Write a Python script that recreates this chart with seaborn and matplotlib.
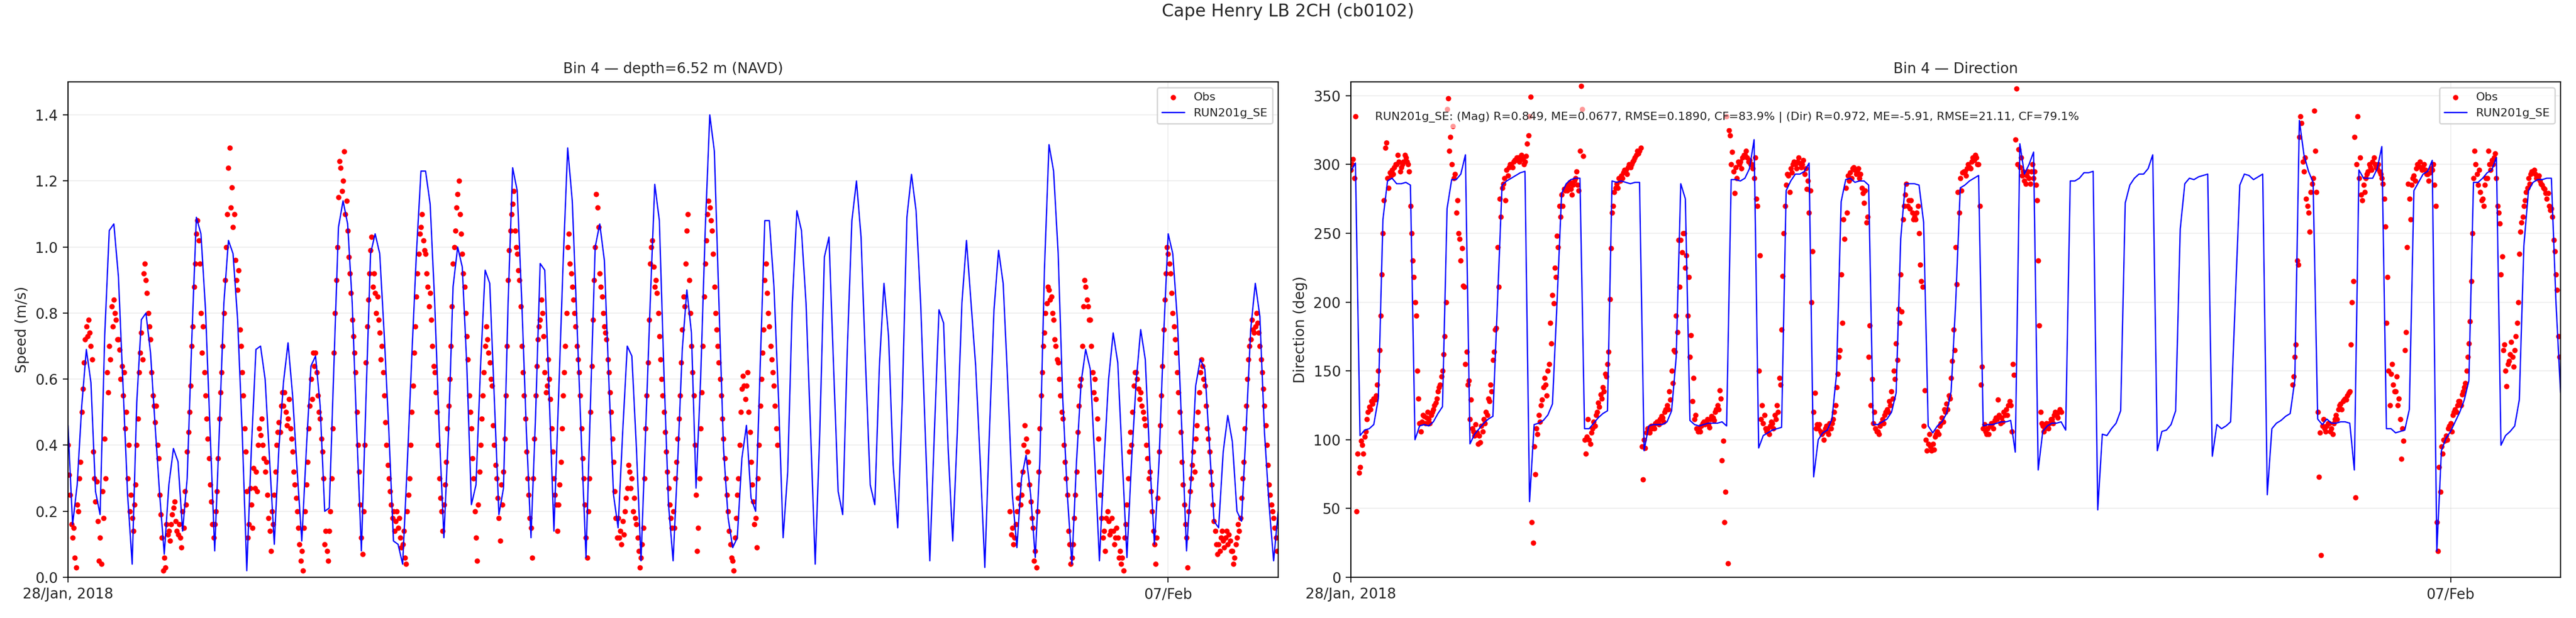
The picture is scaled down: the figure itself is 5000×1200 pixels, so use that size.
import pandas as pd
import numpy as np
import matplotlib
matplotlib.use("Agg")
import matplotlib.pyplot as plt
import seaborn as sns

# model: hourly values starting 28 Jan 2018 00:00
model_speed = [
    0.46, 0.16, 0.28, 0.52, 0.69, 0.59, 0.26, 0.19, 0.73, 1.05,
    1.07, 0.91, 0.58, 0.25, 0.04, 0.53, 0.78, 0.80, 0.68, 0.46,
    0.25, 0.07, 0.28, 0.39, 0.35, 0.14, 0.30, 0.72, 1.09, 1.04,
    0.81, 0.44, 0.08, 0.44, 0.83, 1.02, 0.98, 0.78, 0.44, 0.02,
    0.39, 0.69, 0.70, 0.60, 0.35, 0.10, 0.39, 0.59, 0.71, 0.55,
    0.32, 0.11, 0.39, 0.64, 0.67, 0.52, 0.20, 0.21, 0.64, 1.06,
    1.14, 1.07, 0.83, 0.44, 0.08, 0.54, 0.98, 1.04, 0.98, 0.73,
    0.44, 0.11, 0.10, 0.04, 0.34, 0.67, 0.98, 1.23, 1.23, 1.13,
    0.83, 0.44, 0.12, 0.44, 0.88, 1.00, 0.94, 0.64, 0.22, 0.28,
    0.64, 0.93, 0.89, 0.54, 0.19, 0.27, 0.83, 1.24, 1.17, 0.83,
    0.44, 0.12, 0.49, 0.95, 0.93, 0.54, 0.14, 0.54, 0.95, 1.30,
    1.14, 0.78, 0.41, 0.06, 0.54, 1.00, 1.07, 0.96, 0.59, 0.25,
    0.15, 0.44, 0.70, 0.67, 0.39, 0.05, 0.44, 0.83, 1.19, 1.08,
    0.62, 0.22, 0.05, 0.35, 0.69, 0.87, 0.74, 0.27, 0.60, 1.05,
    1.40, 1.29, 0.83, 0.39, 0.18, 0.09, 0.12, 0.36, 0.46, 0.24,
    0.20, 0.64, 1.08, 1.08, 0.88, 0.54, 0.12, 0.32, 0.83, 1.11,
    1.05, 0.83, 0.44, 0.04, 0.44, 0.97, 1.03, 0.64, 0.26, 0.19,
    0.69, 1.08, 1.20, 1.03, 0.64, 0.28, 0.22, 0.64, 0.89, 0.73,
    0.34, 0.15, 0.54, 1.09, 1.22, 1.11, 0.83, 0.44, 0.05, 0.44,
    0.81, 0.77, 0.39, 0.11, 0.44, 0.83, 1.02, 0.83, 0.64, 0.35,
    0.03, 0.44, 0.81, 0.99, 0.89, 0.59, 0.25, 0.09, 0.30, 0.37,
    0.25, 0.06, 0.35, 0.93, 1.31, 1.23, 0.98, 0.54, 0.25, 0.04,
    0.35, 0.59, 0.69, 0.63, 0.35, 0.05, 0.35, 0.60, 0.74, 0.65,
    0.35, 0.06, 0.35, 0.59, 0.75, 0.66, 0.35, 0.10, 0.35, 0.73,
    1.04, 0.98, 0.78, 0.44, 0.08, 0.30, 0.58, 0.66, 0.63, 0.40,
    0.17, 0.15, 0.38, 0.49, 0.41, 0.20, 0.17, 0.45, 0.75, 0.89,
    0.79, 0.44, 0.22, 0.05, 0.20,
]

model_dir = [
    295, 301, 103, 107, 108, 111, 130, 260, 288, 290,
    286, 286, 287, 285, 100, 110, 111, 110, 113, 119,
    124, 268, 289, 289, 293, 307, 97, 104, 108, 112,
    115, 117, 200, 285, 288, 290, 292, 294, 295, 55,
    111, 112, 114, 118, 126, 200, 279, 286, 289, 290,
    290, 108, 108, 112, 116, 119, 121, 288, 287, 288,
    287, 286, 287, 287, 92, 110, 111, 111, 111, 113,
    121, 160, 286, 275, 114, 111, 110, 111, 112, 112,
    112, 113, 110, 289, 289, 288, 290, 297, 318, 94,
    103, 105, 107, 108, 109, 281, 288, 293, 293, 295,
    301, 73, 100, 105, 107, 115, 148, 273, 289, 290,
    287, 288, 288, 285, 111, 111, 113, 115, 120, 134,
    246, 286, 286, 286, 285, 258, 110, 105, 110, 113,
    119, 135, 200, 283, 285, 288, 290, 292, 110, 111,
    111, 112, 113, 113, 114, 91, 315, 293, 300, 309,
    78, 106, 110, 112, 112, 113, 107, 288, 288, 290,
    294, 294, 295, 49, 104, 103, 108, 112, 121, 272,
    285, 290, 293, 293, 297, 307, 92, 106, 107, 111,
    121, 253, 286, 290, 289, 291, 292, 293, 88, 111,
    108, 110, 113, 200, 285, 293, 292, 289, 291, 293,
    60, 108, 112, 114, 117, 119, 143, 332, 307, 295,
    287, 115, 111, 115, 112, 112, 113, 113, 112, 78,
    296, 290, 290, 290, 297, 313, 108, 108, 105, 106,
    107, 122, 281, 287, 293, 295, 303, 19, 92, 101,
    106, 113, 120, 129, 143, 287, 287, 290, 294, 296,
    305, 96, 103, 106, 110, 129, 241, 281, 287, 289,
    289, 290, 290, 200, 134,
]

# observations, on the hour and half hour: block a from 28 Jan 00:00, block b from 05 Feb 13:30
obs_speed_a = [
    0.40, 0.25, 0.12, 0.06, 0.22, 0.30, 0.50, 0.65, 0.76, 0.78,
    0.70, 0.38, 0.23, 0.17, 0.12, 0.26, 0.42, 0.62, 0.70, 0.82,
    0.84, 0.78, 0.72, 0.60, 0.55, 0.45, 0.30, 0.20, 0.18, 0.22,
    0.40, 0.62, 0.74, 0.92, 0.90, 0.80, 0.72, 0.55, 0.47, 0.40,
    0.25, 0.12, 0.06, 0.16, 0.14, 0.16, 0.21, 0.17, 0.13, 0.12,
    0.20, 0.26, 0.38, 0.50, 0.70, 0.88, 1.04, 1.02, 0.80, 0.76,
    0.55, 0.42, 0.28, 0.16, 0.16, 0.26, 0.48, 0.62, 0.80, 1.00,
    1.24, 1.12, 1.06, 0.96, 0.87, 0.75, 0.62, 0.45, 0.26, 0.16,
    0.22, 0.33, 0.32, 0.40, 0.43, 0.40, 0.32, 0.25, 0.14, 0.20,
    0.25, 0.40, 0.47, 0.52, 0.52, 0.50, 0.48, 0.45, 0.38, 0.28,
    0.20, 0.10, 0.08, 0.15, 0.28, 0.45, 0.60, 0.68, 0.68, 0.55,
    0.48, 0.38, 0.10, 0.08, 0.14, 0.30, 0.68, 0.90, 1.15, 1.24,
    1.20, 1.10, 1.05, 0.92, 0.78, 0.68, 0.50, 0.32, 0.12, 0.20,
    0.65, 0.84, 0.99, 0.88, 0.86, 0.85, 0.74, 0.70, 0.55, 0.40,
    0.30, 0.22, 0.20, 0.17, 0.15, 0.12, 0.10, 0.06, 0.20, 0.30,
    0.50, 0.68, 0.85, 0.98, 1.06, 1.02, 0.98, 0.88, 0.86, 0.70,
    0.62, 0.50, 0.30, 0.20, 0.22, 0.35, 0.52, 0.70, 0.95, 1.05,
    1.16, 1.10, 0.98, 0.88, 0.73, 0.55, 0.45, 0.30, 0.12, 0.22,
    0.40, 0.55, 0.70, 0.72, 0.65, 0.58, 0.40, 0.30, 0.18, 0.28,
    0.32, 0.55, 0.90, 1.05, 1.13, 1.05, 0.98, 0.90, 0.70, 0.55,
    0.38, 0.25, 0.15, 0.30, 0.55, 0.72, 0.78, 0.80, 0.62, 0.58,
    0.60, 0.45, 0.30, 0.22, 0.22, 0.35, 0.55, 0.70, 1.00, 0.95,
    0.88, 0.80, 0.70, 0.62, 0.45, 0.30, 0.12, 0.20, 0.50, 0.78,
    1.00, 1.12, 0.92, 0.85, 0.76, 0.72, 0.62, 0.50, 0.35, 0.18,
    0.18, 0.14, 0.17, 0.20, 0.27, 0.32, 0.30, 0.24, 0.16, 0.08,
    0.06, 0.15, 0.45, 0.65, 0.95, 1.02, 0.88, 0.86, 0.73, 0.60,
    0.50, 0.38, 0.27, 0.18, 0.20, 0.30, 0.42, 0.55, 0.75, 0.82,
    1.05, 0.90, 0.70, 0.55, 0.25, 0.15, 0.45, 0.70, 0.95, 1.10,
    1.12, 1.05, 0.88, 0.75, 0.65, 0.55, 0.42, 0.30, 0.20, 0.10,
    0.05, 0.12, 0.25, 0.40, 0.57, 0.58, 0.58, 0.50, 0.35, 0.23,
    0.18, 0.30, 0.52, 0.68, 0.90, 0.86, 0.76, 0.66, 0.58, 0.45,
]
obs_speed_b = [
    0.20, 0.15, 0.12, 0.20, 0.28, 0.25, 0.40, 0.42, 0.35, 0.23,
    0.15, 0.08, 0.20, 0.45, 0.62, 0.74, 0.83, 0.87, 0.85, 0.78,
    0.70, 0.65, 0.55, 0.48, 0.35, 0.25, 0.10, 0.06, 0.18, 0.32,
    0.52, 0.60, 0.82, 0.88, 0.82, 0.78, 0.62, 0.60, 0.48, 0.32,
    0.18, 0.14, 0.18, 0.17, 0.14, 0.14, 0.12, 0.12, 0.08, 0.06,
    0.12, 0.22, 0.38, 0.40, 0.58, 0.62, 0.57, 0.56, 0.50, 0.46,
    0.36, 0.32, 0.20, 0.10, 0.12, 0.38, 0.55, 0.75, 0.92, 0.98,
    0.92, 0.80, 0.72, 0.62, 0.50, 0.35, 0.22, 0.12, 0.20, 0.30,
    0.38, 0.42, 0.50, 0.62, 0.64, 0.58, 0.45, 0.38, 0.28, 0.17,
    0.10, 0.10, 0.12, 0.11, 0.12, 0.10, 0.11, 0.08, 0.06, 0.12,
    0.14, 0.24, 0.35, 0.52, 0.66, 0.72, 0.75, 0.76, 0.77, 0.70,
    0.62, 0.52, 0.40, 0.28, 0.22, 0.18, 0.12,
]
# observations at quarter past / quarter to: block a from 00:15, block b from 05 Feb 13:45
obs_speed_qa = [
    0.31, 0.16, 0.15, 0.03, 0.20, 0.35, 0.57, 0.72, 0.73, 0.74,
    0.66, 0.30, 0.29, 0.05, 0.04, 0.18, 0.30, 0.56, 0.66, 0.76,
    0.80, 0.72, 0.69, 0.64, 0.62, 0.50, 0.40, 0.25, 0.14, 0.28,
    0.48, 0.68, 0.66, 0.95, 0.86, 0.76, 0.62, 0.52, 0.52, 0.36,
    0.19, 0.02, 0.03, 0.13, 0.11, 0.19, 0.23, 0.14, 0.16, 0.09,
    0.15, 0.22, 0.44, 0.58, 0.76, 0.95, 1.08, 0.95, 0.68, 0.62,
    0.48, 0.36, 0.23, 0.12, 0.20, 0.36, 0.56, 0.70, 0.90, 1.10,
    1.30, 1.18, 1.10, 0.90, 0.93, 0.70, 0.55, 0.38, 0.12, 0.27,
    0.15, 0.27, 0.26, 0.45, 0.48, 0.36, 0.35, 0.18, 0.08, 0.16,
    0.32, 0.44, 0.44, 0.56, 0.56, 0.46, 0.54, 0.42, 0.32, 0.24,
    0.15, 0.05, 0.02, 0.20, 0.35, 0.52, 0.54, 0.64, 0.62, 0.50,
    0.42, 0.30, 0.14, 0.05, 0.20, 0.45, 0.80, 1.00, 1.26, 1.17,
    1.29, 1.14, 0.97, 0.86, 0.73, 0.62, 0.40, 0.22, 0.07, 0.40,
    0.76, 0.92, 1.03, 0.92, 0.80, 0.78, 0.66, 0.62, 0.47, 0.34,
    0.26, 0.18, 0.14, 0.20, 0.18, 0.09, 0.14, 0.04, 0.25, 0.40,
    0.58, 0.76, 0.92, 1.04, 1.10, 0.99, 0.92, 0.82, 0.78, 0.64,
    0.56, 0.40, 0.24, 0.14, 0.28, 0.45, 0.60, 0.82, 1.00, 1.12,
    1.20, 1.04, 0.92, 0.80, 0.66, 0.50, 0.36, 0.20, 0.05, 0.32,
    0.48, 0.62, 0.76, 0.68, 0.60, 0.46, 0.34, 0.24, 0.11, 0.22,
    0.42, 0.70, 0.99, 1.10, 1.17, 1.00, 0.93, 0.82, 0.62, 0.48,
    0.30, 0.18, 0.06, 0.42, 0.64, 0.76, 0.84, 0.73, 0.56, 0.66,
    0.54, 0.38, 0.25, 0.14, 0.28, 0.45, 0.62, 0.80, 1.04, 0.92,
    0.84, 0.76, 0.66, 0.55, 0.36, 0.22, 0.06, 0.30, 0.64, 0.90,
    1.16, 1.06, 0.88, 0.80, 0.74, 0.66, 0.56, 0.42, 0.26, 0.12,
    0.12, 0.10, 0.13, 0.24, 0.34, 0.27, 0.20, 0.18, 0.12, 0.03,
    0.10, 0.30, 0.55, 0.78, 1.00, 0.94, 0.90, 0.80, 0.66, 0.55,
    0.44, 0.32, 0.22, 0.15, 0.15, 0.35, 0.48, 0.65, 0.85, 0.95,
    1.10, 0.80, 0.62, 0.40, 0.08, 0.30, 0.56, 0.85, 1.02, 1.14,
    1.08, 0.98, 0.80, 0.70, 0.60, 0.48, 0.36, 0.25, 0.14, 0.06,
    0.02, 0.18, 0.30, 0.50, 0.61, 0.54, 0.62, 0.44, 0.28, 0.16,
    0.09, 0.40, 0.60, 0.75, 0.95, 0.80, 0.70, 0.62, 0.52, 0.40,
]
obs_speed_qb = [
    0.13, 0.10, 0.16, 0.24, 0.22, 0.32, 0.46, 0.38, 0.28,
    0.18, 0.05, 0.03, 0.32, 0.55, 0.70, 0.80, 0.88, 0.84, 0.80,
    0.72, 0.66, 0.60, 0.50, 0.40, 0.30, 0.14, 0.04, 0.10, 0.25,
    0.44, 0.58, 0.70, 0.90, 0.84, 0.78, 0.70, 0.56, 0.54, 0.42,
    0.25, 0.12, 0.08, 0.20, 0.13, 0.18, 0.10, 0.15, 0.06, 0.04,
    0.02, 0.16, 0.30, 0.44, 0.50, 0.62, 0.60, 0.54, 0.52, 0.48,
    0.40, 0.30, 0.26, 0.14, 0.04, 0.24, 0.46, 0.64, 0.84, 1.00,
    0.95, 0.86, 0.76, 0.68, 0.56, 0.44, 0.28, 0.16, 0.03, 0.26,
    0.34, 0.32, 0.46, 0.56, 0.66, 0.60, 0.52, 0.42, 0.32, 0.22,
    0.14, 0.07, 0.08, 0.14, 0.09, 0.14, 0.13, 0.08, 0.04, 0.10,
    0.16, 0.18, 0.30, 0.45, 0.60, 0.70, 0.78, 0.74, 0.80, 0.74,
    0.66, 0.57, 0.46, 0.34, 0.25, 0.20, 0.15, 0.08,
]

obs_dir_a = [
    296, 304, 335, 90, 80, 96, 102, 115, 124, 128,
    130, 132, 150, 190, 250, 312, 290, 294, 296, 298,
    300, 302, 298, 302, 305, 300, 270, 230, 200, 150,
    112, 113, 117, 116, 115, 118, 122, 127, 135, 140,
    150, 175, 340, 310, 300, 290, 265, 250, 230, 212,
    155, 140, 115, 108, 103, 105, 103, 110, 115, 120,
    130, 140, 158, 180, 240, 275, 283, 290, 296, 298,
    300, 302, 303, 305, 305, 304, 302, 315, 335, 40,
    95, 108, 118, 125, 138, 140, 150, 185, 205, 225,
    248, 270, 278, 282, 283, 285, 282, 285, 290, 285,
    310, 340, 100, 102, 100, 105, 113, 118, 127, 133,
    138, 148, 155, 202, 265, 280, 286, 290, 292, 294,
    296, 298, 298, 302, 305, 310, 310, 95, 100, 105,
    108, 110, 110, 112, 113, 115, 116, 120, 125, 135,
    150, 165, 190, 245, 245, 250, 225, 190, 160, 128,
    115, 108, 108, 110, 113, 113, 111, 115, 116, 120,
    125, 136, 85, 40, 335, 325, 300, 295, 298, 302,
    302, 305, 307, 305, 303, 300, 290, 275, 150, 115,
    112, 108, 108, 110, 112, 118, 125, 145, 180, 250,
    285, 292, 297, 300, 300, 302, 301, 300, 293, 282,
    265, 200, 120, 108, 108, 106, 105, 108, 106, 112,
    112, 120, 138, 160, 220, 260, 283, 292, 294, 297,
    296, 295, 290, 283, 272, 258, 160, 125, 112, 108,
    106, 110, 115, 118, 122, 128, 135, 150, 170, 195,
    220, 260, 278, 270, 268, 265, 262, 265, 250, 215,
    110, 100, 97, 95, 97, 102, 106, 110, 116, 122,
    126, 132, 145, 180, 240, 280, 290, 294, 295, 297,
    298, 302, 303, 305, 300, 140, 108, 106, 108, 110,
    112, 114, 115, 118, 116, 120, 122, 125, 125, 155,
    318, 300, 298, 292, 288, 292, 290, 295, 290, 285,
    230, 120, 110, 108, 110, 112, 115, 118, 118, 120,
    120,
]
obs_dir_b = [
    140, 160, 230, 320, 330, 295, 275, 265, 280, 290,
    310, 120, 105, 110, 108, 110, 112, 108, 112, 118,
    122, 126, 128, 130, 132, 135, 200, 320, 300, 290,
    278, 285, 290, 295, 298, 302, 300, 297, 295, 290,
    275, 185, 150, 148, 140, 135, 125, 115, 108, 165,
    240, 275, 285, 292, 297, 299, 298, 297, 296, 293,
    294, 296, 285, 40, 80, 95, 100, 103, 108, 112,
    118, 122, 125, 128, 133, 138, 150, 170, 215, 290,
    300, 285, 280, 275, 285, 290, 300, 303, 305, 290,
    265, 220, 165, 150, 155, 162, 160, 165, 185, 235,
    258, 270, 280, 290, 293, 294, 293, 290, 288, 285,
    282, 275, 270, 268, 245, 220, 175,
]
obs_dir_qa = [
    300, 290, 48, 76, 99, 90, 106, 120, 122, 126,
    129, 140, 165, 220, 274, 316, 283, 292, 293, 300,
    307, 295, 300, 307, 302, 295, 250, 218, 190, 130,
    106, 118, 112, 120, 112, 120, 125, 130, 138, 146,
    162, 200, 348, 320, 328, 293, 274, 246, 239, 211,
    164, 143, 129, 106, 111, 97, 98, 106, 112, 118,
    128, 135, 164, 181, 211, 262, 286, 274, 292, 300,
    298, 303, 305, 302, 307, 300, 306, 321, 349, 25,
    75, 104, 113, 129, 145, 132, 155, 170, 199, 218,
    240, 262, 270, 281, 281, 287, 278, 288, 295, 281,
    357, 306, 90, 115, 97, 108, 110, 120, 124, 130,
    135, 146, 164, 239, 270, 283, 283, 288, 290, 296,
    293, 300, 300, 303, 307, 308, 312, 71, 94, 108,
    105, 108, 108, 113, 111, 117, 113, 122, 122, 129,
    141, 164, 178, 211, 236, 250, 234, 218, 176, 145,
    118, 106, 106, 112, 111, 115, 109, 117, 114, 122,
    122, 130, 99, 62, 10, 321, 309, 279, 290, 300,
    297, 307, 310, 302, 300, 297, 305, 270, 234, 125,
    118, 106, 104, 113, 108, 115, 120, 140, 219, 270,
    293, 280, 294, 302, 297, 305, 298, 303, 297, 288,
    281, 237, 134, 111, 111, 104, 100, 110, 104, 108,
    115, 125, 148, 165, 185, 246, 265, 288, 290, 298,
    293, 297, 293, 279, 281, 262, 183, 144, 120, 106,
    104, 112, 112, 120, 120, 125, 130, 144, 158, 185,
    193, 270, 286, 274, 274, 260, 260, 270, 227, 211,
    136, 92, 104, 92, 93, 104, 104, 112, 113, 120,
    122, 130, 157, 165, 213, 265, 281, 295, 292, 300,
    297, 305, 307, 300, 270, 153, 111, 104, 104, 112,
    108, 116, 129, 112, 113, 118, 118, 128, 106, 147,
    355, 311, 305, 295, 286, 295, 286, 300, 295, 274,
    183, 112, 106, 112, 108, 115, 112, 120, 116, 122,
]
obs_dir_qb = [
    146, 169, 227, 335, 302, 305, 270, 251, 286,
    339, 280, 73, 16, 115, 106, 112, 106, 104, 115,
    115, 125, 122, 129, 129, 134, 169, 215, 58, 335,
    305, 274, 280, 293, 300, 296, 305, 298, 300, 293,
    286, 255, 218, 125, 155, 135, 146, 130, 86, 99,
    178, 286, 260, 290, 288, 300, 302, 296, 300, 293,
    288, 297, 300, 270, 19, 62, 90, 99, 100, 110,
    106, 120, 120, 128, 125, 135, 141, 160, 186, 250,
    310, 293, 296, 274, 270, 290, 310, 296, 300, 308,
    270, 257, 233, 169, 139, 157, 171, 153, 175, 200,
    251, 262, 274, 283, 286, 295, 296, 290, 292, 286,
    283, 279, 279, 267, 262, 237, 209, 160,
]

stats_text = ("RUN201g_SE: (Mag) R=0.849, ME=0.0677, RMSE=0.1890, CF=83.9% | "
              "(Dir) R=0.972, ME=-5.91, RMSE=21.11, CF=79.1%")

t0 = pd.Timestamp("2018-01-28 00:00")
t_gap = pd.Timestamp("2018-02-05 13:30")
q = pd.Timedelta("15min")


def obs_times(a, b, qa, qb):
    # half-hourly stamps for the two blocks, plus the quarter-hour readings
    return (pd.date_range(t0, periods=len(a), freq="30min")
            .append(pd.date_range(t_gap, periods=len(b), freq="30min"))
            .append(pd.date_range(t0 + q, periods=len(qa), freq="30min"))
            .append(pd.date_range(t_gap + q, periods=len(qb), freq="30min")))


t_model = pd.date_range(t0, periods=len(model_speed), freq="h")
t_spd = obs_times(obs_speed_a, obs_speed_b, obs_speed_qa, obs_speed_qb)
t_dir = obs_times(obs_dir_a, obs_dir_b, obs_dir_qa, obs_dir_qb)

sns.set_style("white")
plt.rcParams["font.family"] = ["DejaVu Sans"]

fig = plt.figure(figsize=(25, 6), dpi=200)
ax1 = fig.add_axes([0.0264, 0.0658, 0.4698, 0.8017])
ax2 = fig.add_axes([0.5244, 0.0658, 0.4696, 0.8017])

panels = [
    (ax1, t_spd, obs_speed_a + obs_speed_b + obs_speed_qa + obs_speed_qb, model_speed,
     "Speed (m/s)", "Bin 4 \u2014 depth=6.52 m (NAVD)", (0, 1.5), np.arange(0, 1.41, 0.2)),
    (ax2, t_dir, obs_dir_a + obs_dir_b + obs_dir_qa + obs_dir_qb, model_dir,
     "Direction (deg)", "Bin 4 \u2014 Direction", (0, 360), np.arange(0, 351, 50)),
]

for ax, t_obs, obs, mod, ylab, title, ylim, yt in panels:
    sns.scatterplot(x=t_obs, y=obs, ax=ax, color="red", s=14, linewidth=0,
                    label="Obs", zorder=2)
    sns.lineplot(x=t_model, y=mod, ax=ax, color="blue", linewidth=0.9,
                 estimator=None, label="RUN201g_SE", zorder=2)
    ax.set_xlim(t0, pd.Timestamp("2018-02-08 00:00"))
    ax.set_ylim(*ylim)
    ax.set_yticks(yt)
    ax.set_xticks([t0, pd.Timestamp("2018-02-07")])
    ax.set_xticklabels(["28/Jan, 2018", "07/Feb"])
    ax.tick_params(axis="both", labelsize=10, length=3.5, width=0.8, direction="out",
                   left=True, bottom=True)
    ax.grid(True, alpha=0.3)
    ax.set_ylabel(ylab, fontsize=10)
    ax.set_xlabel("")
    ax.set_title(title, fontsize=10)
    for sp in ax.spines.values():
        sp.set_color("black")
        sp.set_linewidth(0.8)
    ax.legend(loc="upper right", fontsize=8)

ax2.text(0.02, 0.94, stats_text, transform=ax2.transAxes, fontsize=8, va="top",
         bbox=dict(facecolor="white", alpha=0.6, edgecolor="none"), zorder=5)

fig.suptitle("Cape Henry LB 2CH (cb0102)", fontsize=12, y=0.995)

fig.savefig("out.png", dpi=200)
